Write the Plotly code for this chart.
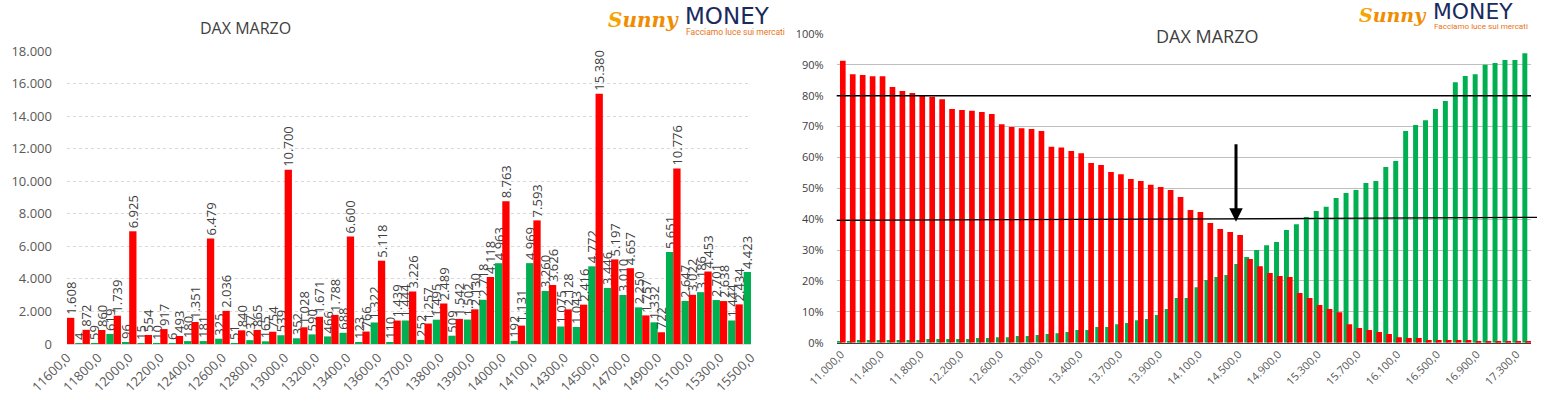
import plotly.graph_objects as go

# ---------------- LEFT CHART DATA (open interest per strike) ----------------
left_strikes = [11600, 11700, 11800, 11900, 12000, 12100, 12200, 12300, 12400, 12500,
                12600, 12700, 12800, 12900, 13000, 13100, 13200, 13300, 13400, 13500,
                13600, 13650, 13700, 13750, 13800, 13850, 13900, 13950, 14000, 14050,
                14100, 14200, 14300, 14400, 14500, 14600, 14700, 14800, 14900, 15000,
                15100, 15200, 15300, 15400, 15500]
left_green = [None, 4, 59, 619, 96, 15, 10, 6, 180, 181,
              325, 51, 237, 165, 539, 352, 590, 466, 688, 123,
              1322, 110, 1444, 252, 1495, 509, 1502, 2718, 4963, 192,
              4969, 3260, 1075, 1043, 4772, 3446, 3010, 2250, 1332, 5651,
              2647, 3186, 2701, 1444, 4423]
left_red = [1608, 872, 860, 1739, 6925, 554, 917, 493, 1351, 6479,
            2036, 840, 865, 754, 10700, 1028, 1671, 1788, 6600, 766,
            5118, 1439, 3226, 1257, 2489, 1542, 2130, 4118, 8763, 1131,
            7593, 3626, 2128, 2416, 15380, 5197, 4657, 1757, 722, 10776,
            3022, 4453, 2638, 2434, None]
left_yticks = [0, 2000, 4000, 6000, 8000, 10000, 12000, 14000, 16000, 18000]

# ---------------- RIGHT CHART DATA (percent per strike) ----------------
right_strikes = [11000, 11100, 11200, 11300, 11400, 11500, 11600, 11700, 11800, 11900,
                 12000, 12100, 12200, 12300, 12400, 12500, 12600, 12700, 12800, 12900,
                 13000, 13100, 13200, 13300, 13400, 13500, 13600, 13650, 13700, 13750,
                 13800, 13850, 13900, 13950, 14000, 14050, 14100, 14200, 14300, 14400,
                 14500, 14600, 14700, 14800, 14900, 15000, 15100, 15200, 15300, 15400,
                 15500, 15600, 15700, 15800, 15900, 16000, 16100, 16200, 16300, 16400,
                 16500, 16600, 16700, 16800, 16900, 17000, 17100, 17200, 17300, 17400]
right_red = [91.3, 87.0, 86.7, 86.3, 86.3, 82.8, 81.5, 80.9, 80.2, 79.7,
             78.9, 75.7, 75.4, 75.1, 74.7, 74.1, 70.8, 69.9, 69.5, 69.2,
             68.6, 63.5, 63.2, 62.1, 61.4, 58.2, 57.6, 55.3, 54.6, 53.0,
             52.4, 51.2, 50.4, 49.5, 47.2, 43.0, 42.3, 38.8, 36.8, 35.9,
             34.9, 27.1, 24.8, 22.6, 21.6, 21.3, 16.1, 14.5, 12.2, 10.9,
             9.9, 6.0, 4.8, 4.1, 3.5, 2.8, 1.8, 1.5, 1.5, 0.9,
             0.9, 0.9, 0.9, 0.9, 0.5, 0.5, 0.5, 0.5, 0.5, 0.5]
right_green = [0.5, 0.5, 0.9, 0.9, 0.9, 0.9, 0.9, 0.9, 0.9, 1.2,
               1.2, 1.2, 1.2, 1.2, 1.5, 1.5, 1.8, 1.8, 2.2, 2.2,
               2.5, 2.8, 3.1, 3.5, 4.1, 4.1, 5.1, 5.1, 6.0, 6.4,
               7.3, 7.7, 9.0, 10.9, 14.5, 14.5, 18.0, 20.3, 21.3, 21.9,
               25.5, 27.8, 30.0, 31.6, 32.6, 36.5, 38.4, 40.7, 42.7, 44.0,
               46.9, 48.5, 49.5, 51.7, 52.4, 56.9, 58.9, 68.6, 70.5, 72.1,
               75.7, 78.3, 84.4, 86.4, 87.0, 90.0, 90.6, 91.6, 91.6, 93.8]
right_yticks = [0, 10, 20, 30, 40, 50, 60, 70, 80, 90, 100]
level_high = 80
level_mid_start = 39.6
level_mid_end = 40.6
arrow_strike = 14500
arrow_from = 64.8
arrow_to = 39.2

RED = "#FF0000"
GREEN = "#00B050"
FONT = "Open Sans"
W, H = 1552, 399


def it(v):
    return f"{v:,}".replace(",", ".")


def strike_label(s, thousands=False):
    return (it(s) if thousands else str(s)) + ",0"


def px_x(p):
    return p / W


def px_y(p):
    return 1 - p / H


fig = go.Figure()

# ---------- Left chart ----------
lx = list(range(len(left_strikes)))
fig.add_trace(go.Bar(
    x=lx, y=left_green, xaxis="x", yaxis="y",
    marker=dict(color=GREEN, line=dict(width=0)),
    offset=-0.47, width=0.47,
    text=[it(v) if v is not None else "" for v in left_green],
    textposition="outside", textangle=-90, constraintext="none", cliponaxis=False,
    outsidetextfont=dict(family=FONT, size=13, color="#404040"),
    showlegend=False, hoverinfo="skip"))
fig.add_trace(go.Bar(
    x=lx, y=left_red, xaxis="x", yaxis="y",
    marker=dict(color=RED, line=dict(width=0)),
    offset=0.0, width=0.47,
    text=[it(v) if v is not None else "" for v in left_red],
    textposition="outside", textangle=-90, constraintext="none", cliponaxis=False,
    outsidetextfont=dict(family=FONT, size=13, color="#404040"),
    showlegend=False, hoverinfo="skip"))

# ---------- Right chart ----------
rx = list(range(len(right_strikes)))
fig.add_trace(go.Bar(
    x=rx, y=[v / 100 for v in right_green], xaxis="x2", yaxis="y2",
    marker=dict(color=GREEN, line=dict(width=0)),
    offset=-0.42, width=0.5, showlegend=False, hoverinfo="skip"))
fig.add_trace(go.Bar(
    x=rx, y=[v / 100 for v in right_red], xaxis="x2", yaxis="y2",
    marker=dict(color=RED, line=dict(width=0)),
    offset=-0.12, width=0.57, showlegend=False, hoverinfo="skip"))

left_dom_x = [px_x(67), px_x(751)]
left_dom_y = [px_y(344), px_y(51)]
right_dom_x = [px_x(836.7), px_x(1531)]
right_dom_y = [px_y(342.7), px_y(34)]

fig.update_layout(
    width=W, height=H,
    margin=dict(l=0, r=0, t=0, b=0, autoexpand=False),
    paper_bgcolor="white", plot_bgcolor="white",
    barmode="overlay",
    font=dict(family=FONT, color="#595959"),
    xaxis=dict(domain=left_dom_x, anchor="y", range=[0, len(left_strikes) - 1],
               tickvals=lx[::2], ticktext=[strike_label(s) for s in left_strikes[::2]],
               tickangle=-45, tickfont=dict(size=13, color="#595959"),
               showgrid=False, zeroline=False, showline=True, linecolor="#d9d9d9",
               ticks="", automargin=False),
    yaxis=dict(domain=left_dom_y, anchor="x", range=[0, 18000],
               tickvals=left_yticks, ticktext=[it(v) for v in left_yticks],
               tickfont=dict(size=13, color="#595959"),
               showgrid=True, gridcolor="#d9d9d9", griddash="dot", gridwidth=1,
               zeroline=False, showline=False, ticks="", ticklabelstandoff=14,
               automargin=False),
    xaxis2=dict(domain=right_dom_x, anchor="y2", range=[-0.45, len(right_strikes) - 0.55],
                tickvals=rx[::4], ticktext=[strike_label(s, True) for s in right_strikes[::4]],
                tickangle=-45, tickfont=dict(size=11, color="#595959"),
                showgrid=False, zeroline=False, showline=True, linecolor="#404040",
                ticks="", automargin=False),
    yaxis2=dict(domain=right_dom_y, anchor="x2", range=[0, 1],
                tickvals=[v / 100 for v in right_yticks],
                ticktext=[f"{v}%" for v in right_yticks],
                tickfont=dict(size=11, color="#404040"),
                showgrid=True, gridcolor="#bfbfbf", gridwidth=1,
                zeroline=False, showline=False, ticks="", ticklabelstandoff=12,
                automargin=False),
)

# horizontal reference lines on the right chart
fig.add_shape(type="line", xref="x2 domain", yref="y2", x0=0, x1=1,
              y0=level_high / 100, y1=level_high / 100,
              line=dict(color="black", width=1.3))
fig.add_shape(type="line", xref="paper", yref="y2", x0=px_x(836.7), x1=px_x(1537),
              y0=level_mid_start / 100, y1=level_mid_end / 100,
              line=dict(color="black", width=1.3))

# arrow
ai = right_strikes.index(arrow_strike) - 0.25
fig.add_annotation(x=ai, y=arrow_to / 100, ax=ai, ay=arrow_from / 100,
                   xref="x2", yref="y2", axref="x2", ayref="y2",
                   text="", showarrow=True, arrowhead=2, arrowsize=0.9,
                   arrowwidth=3, arrowcolor="black", standoff=0, startstandoff=0)

# titles
fig.add_annotation(x=px_x(245), y=px_y(28), xref="paper", yref="paper",
                   text="DAX MARZO", showarrow=False, xanchor="center", yanchor="middle",
                   font=dict(family=FONT, size=16, color="#404040"))
fig.add_annotation(x=px_x(1207), y=px_y(36), xref="paper", yref="paper",
                   text="DAX MARZO", showarrow=False, xanchor="center", yanchor="middle",
                   font=dict(family=FONT, size=18, color="#404040"))


# logos (as text)
def logo(x_money, y_top, scale=1.0):
    fig.add_annotation(x=px_x(x_money - 2), y=px_y(y_top + 19 * scale), xref="paper", yref="paper",
                       text="<span style='color:#F5A400'>S</span><span style='color:#F08C00'>unny</span>",
                       showarrow=False, xanchor="right", yanchor="middle",
                       font=dict(family="DejaVu Serif", size=20 * scale, color="#F08C00",
                                 style="italic", weight="bold"))
    fig.add_annotation(x=px_x(x_money), y=px_y(y_top + 15 * scale), xref="paper", yref="paper",
                       text="MONEY", showarrow=False, xanchor="left", yanchor="middle",
                       font=dict(family="DejaVu Sans", size=23 * scale, color="#1B2A5E",
                                 weight="normal"))
    fig.add_annotation(x=px_x(x_money + 1), y=px_y(y_top + 31 * scale), xref="paper", yref="paper",
                       text="Facciamo luce sui mercati", showarrow=False,
                       xanchor="left", yanchor="middle",
                       font=dict(family="Liberation Sans Narrow, Roboto", size=8.5 * scale,
                                 color="#E8731A"))


logo(683, 1, 1.0)
logo(1431, -3, 0.95)

fig.write_html("out.html", config={"displayModeBar": False},
               post_script="document.body.style.margin='0';document.body.style.overflow='hidden';")
